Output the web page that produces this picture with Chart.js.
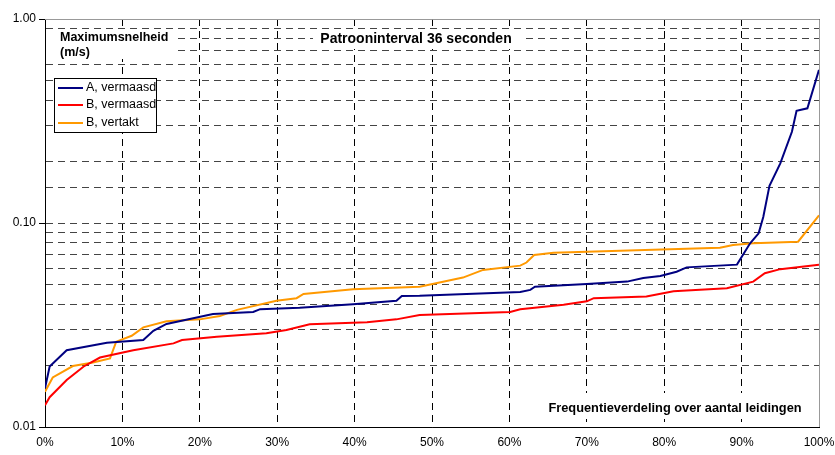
<!DOCTYPE html>
<html>
<head>
<meta charset="utf-8">
<script src="https://cdn.jsdelivr.net/npm/chart.js@4"></script>
<style>
  body { margin: 0; background: #fff; }
  #wrap { width: 835px; height: 455px; position: relative; }
</style>
</head>
<body>
<div id="wrap"><canvas id="grafiek"></canvas></div>
<script>
// Frequentieverdeling (% van leidingen) en maximumsnelheid (m/s)
const pctA = [0, 0.6, 2.8, 8, 12.7, 14, 15.7, 21.7, 26.9, 27.8, 32.9, 39.8, 45.4, 46.1, 48.4, 61.4, 62.7, 63.3, 70, 75.2, 77.3, 79.5, 81.6, 82.9, 89.4, 91.1, 92.2, 92.8, 93.6, 95, 96.5, 97.1, 98.5, 100];
const snelA = [0.0155, 0.0198, 0.0238, 0.0259, 0.0267, 0.0296, 0.032, 0.0358, 0.0366, 0.0378, 0.0384, 0.040, 0.0416, 0.0439, 0.044, 0.0459, 0.047, 0.0487, 0.0502, 0.0516, 0.0538, 0.055, 0.0577, 0.0606, 0.0625, 0.0795, 0.089, 0.107, 0.152, 0.196, 0.28, 0.355, 0.365, 0.563];

const pctBm = [0, 0.6, 2.8, 5, 7.1, 11.4, 16.6, 17.7, 22.2, 28.6, 31.2, 34.2, 41.6, 45.4, 48.4, 60.1, 61.4, 67, 70, 70.9, 77.7, 81.2, 82.9, 88.1, 91.5, 93, 95, 100];
const snelBm = [0.0128, 0.014, 0.017, 0.0198, 0.0219, 0.0238, 0.0257, 0.0267, 0.0277, 0.0288, 0.0299, 0.0319, 0.0326, 0.0337, 0.0354, 0.0366, 0.0378, 0.0397, 0.0413, 0.0428, 0.0436, 0.0463, 0.0467, 0.0479, 0.0516, 0.0567, 0.0594, 0.0625];

const pctBv = [0, 1, 3.6, 6.2, 8.4, 9.2, 11.2, 12.7, 15.7, 20, 22.6, 24.8, 29.9, 32.5, 33.4, 39.8, 48.4, 54, 56.6, 61.4, 62.2, 63.2, 65.7, 74.3, 87.2, 88.9, 91.5, 97.3, 100];
const snelBv = [0.0149, 0.0175, 0.0199, 0.0207, 0.0217, 0.0262, 0.028, 0.0308, 0.033, 0.0337, 0.035, 0.0375, 0.0416, 0.0428, 0.0449, 0.0473, 0.0487, 0.054, 0.0589, 0.0618, 0.064, 0.0697, 0.0715, 0.0732, 0.0757, 0.078, 0.0795, 0.081, 0.109];

const reeksen = ['A, vermaasd', 'B, vermaasd', 'B, vertakt'];
const kleuren = ['#000080', '#ff0000', '#ff9900'];

const punten = (xs, ys) => xs.map((x, i) => ({ x: x, y: ys[i] }));

function isMacht(v) {
    const l = Math.log10(v);
    return Math.abs(l - Math.round(l)) < 1e-6;
}

// witte vlakken met tekst, legenda en rand
const extras = {
    id: 'extras',
    beforeDatasetsDraw(chart) {
        const c = chart.ctx;
        const a = chart.chartArea;
        c.save();
        c.fillStyle = '#fff';
        c.fillRect(46, 30, 128, 29);
        c.fillRect(313, 30, 208, 19);
        c.fillRect(542, 393, 266, 26);

        c.fillStyle = '#000';
        c.textBaseline = 'middle';
        c.font = 'bold 12.5px "Liberation Sans", Arial, sans-serif';
        c.textAlign = 'left';
        c.fillText('Maximumsnelheid', 60, 38);
        c.fillText('(m/s)', 60, 53);
        c.font = 'bold 14px "Liberation Sans", Arial, sans-serif';
        c.textAlign = 'center';
        c.fillText('Patrooninterval 36 seconden', 416, 39);
        c.font = 'bold 12.8px "Liberation Sans", Arial, sans-serif';
        c.fillText('Frequentieverdeling over aantal leidingen', 675, 408);

        // legenda
        c.fillStyle = '#fff';
        c.fillRect(55, 78, 102, 54);
        c.strokeStyle = '#000';
        c.lineWidth = 1;
        c.strokeRect(54.5, 78.5, 102, 54);
        c.font = '12.5px "Liberation Sans", Arial, sans-serif';
        c.textAlign = 'left';
        const rijen = [88, 105, 123];
        reeksen.forEach((naam, i) => {
            c.strokeStyle = kleuren[i];
            c.lineWidth = 2;
            c.beginPath();
            c.moveTo(58, rijen[i]);
            c.lineTo(83, rijen[i]);
            c.stroke();
            c.fillStyle = '#000';
            c.fillText(naam, 86, rijen[i]);
        });

        // grijze rand boven en rechts
        c.strokeStyle = '#999';
        c.lineWidth = 1;
        c.beginPath();
        c.moveTo(a.left, a.top + 0.5);
        c.lineTo(a.right + 0.5, a.top + 0.5);
        c.lineTo(a.right + 0.5, a.bottom);
        c.stroke();
        c.restore();
    }
};

const ctx = document.getElementById('grafiek').getContext('2d');
const grafiek = new Chart(ctx, {
    type: 'line',
    data: {
        datasets: [
            { label: reeksen[0], data: punten(pctA, snelA), borderColor: kleuren[0] },
            { label: reeksen[1], data: punten(pctBm, snelBm), borderColor: kleuren[1] },
            { label: reeksen[2], data: punten(pctBv, snelBv), borderColor: kleuren[2] }
        ]
    },
    options: {
        responsive: true,
        maintainAspectRatio: false,
        animation: false,
        layout: { padding: { top: 19, right: 16, left: 0, bottom: 0 } },
        elements: {
            line: { borderWidth: 2, tension: 0, fill: false },
            point: { radius: 0 }
        },
        plugins: {
            legend: { display: false },
            tooltip: { enabled: false }
        },
        scales: {
            x: {
                type: 'linear',
                min: 0,
                max: 100,
                afterFit: s => { s.height = 28; s.paddingLeft = 0; s.paddingRight = 0; },
                ticks: {
                    stepSize: 10,
                    padding: 8,
                    color: '#000',
                    font: { family: '"Liberation Sans", Arial, sans-serif', size: 12 },
                    callback: v => v + '%'
                },
                grid: { color: '#000', lineWidth: 1, drawTicks: false },
                border: { color: '#000', width: 1, dash: [7, 5] }
            },
            y: {
                type: 'logarithmic',
                min: 0.01,
                max: 1,
                afterFit: s => { s.width = 45; s.paddingTop = 0; s.paddingBottom = 0; },
                ticks: {
                    autoSkip: false,
                    padding: 3,
                    color: '#000',
                    font: { family: '"Liberation Sans", Arial, sans-serif', size: 12 },
                    callback: v => isMacht(v) ? v.toFixed(2) : ''
                },
                grid: {
                    color: '#444',
                    lineWidth: 1,
                    tickLength: 6,
                    tickBorderDash: [],
                    tickColor: c => (c.tick && isMacht(c.tick.value)) ? '#000' : 'rgba(0,0,0,0)'
                },
                border: { color: '#000', width: 1, dash: [7, 5] }
            }
        }
    },
    plugins: [extras]
});
</script>
</body>
</html>
